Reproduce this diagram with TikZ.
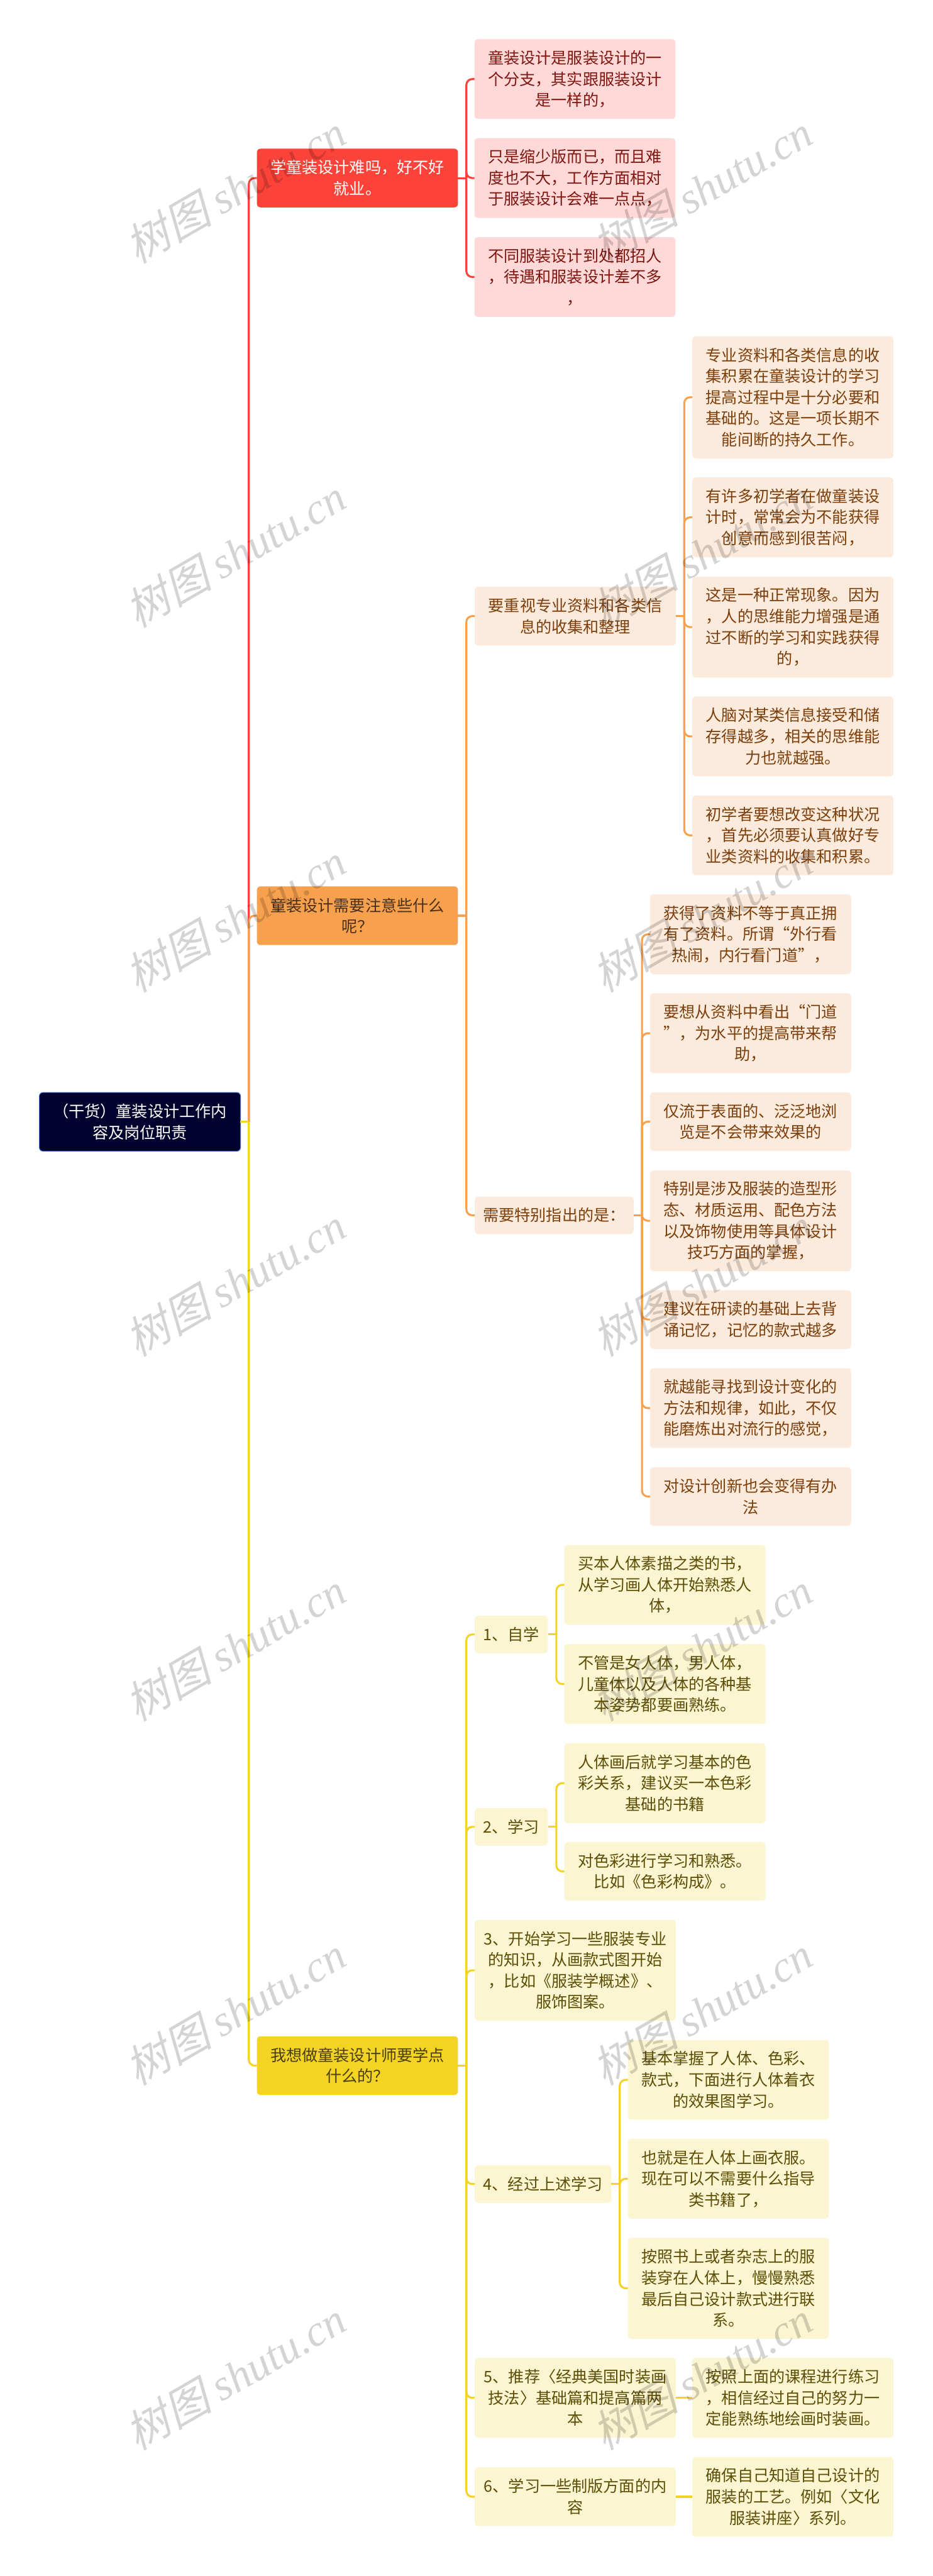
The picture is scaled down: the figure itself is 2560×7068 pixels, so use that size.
\documentclass[tikz,border=0pt]{standalone}
\usepackage{fontspec}
\setmainfont{Noto Sans CJK SC}
\newfontfamily\markcjk[FakeSlant=0.25]{Noto Sans CJK SC}
\newfontfamily\marklatin{Liberation Serif}
\usetikzlibrary{calc}
\definecolor{mind root}{HTML}{02022E}
\definecolor{mind rim}{HTML}{3D6ABF}
\definecolor{mind red}{HTML}{FB4339}
\definecolor{mind red leaf}{HTML}{FFD9D8}
\definecolor{mind red text}{HTML}{7F1610}
\definecolor{mind orange}{HTML}{F7A14E}
\definecolor{mind orange leaf}{HTML}{FCEBDC}
\definecolor{mind orange text}{HTML}{7C3F0B}
\definecolor{mind orange dark}{HTML}{4A3018}
\definecolor{mind yellow}{HTML}{F3D324}
\definecolor{mind yellow leaf}{HTML}{FCF5D2}
\definecolor{mind yellow text}{HTML}{5C4E05}
\definecolor{mind yellow dark}{HTML}{4A3F08}
\tikzset{
  topic/.style = {rounded corners = 5 pt, inner sep = 0 pt, outer sep = 0 pt, align = center,
    font = \fontsize{21.7pt}{29pt}\selectfont, minimum width = 276 pt},
  rows/.style = {minimum height = #1*29 pt + 22.5 pt},
  root box/.style = {topic, fill = mind root, draw = mind rim, line width = 1 pt, text = white},
  red main/.style = {topic, fill = mind red, text = white},
  red leaf/.style = {topic, fill = mind red leaf, text = mind red text},
  orange main/.style = {topic, fill = mind orange, text = mind orange dark},
  orange leaf/.style = {topic, fill = mind orange leaf, text = mind orange text},
  yellow main/.style = {topic, fill = mind yellow, text = mind yellow dark},
  yellow leaf/.style = {topic, fill = mind yellow leaf, text = mind yellow text},
  link/.style = {line width = 2.7 pt, draw = #1},
  watermark/.style = {inner sep = 0 pt, rotate = 30, text = black, text opacity = 0.17,
    font = \fontsize{60pt}{60pt}\selectfont}
}
\newcommand{\connect}[3]{%
  \draw[link = #1] (#2.east) -- ++(23, 0);
  \draw[link = #1, rounded corners = 8 pt] ($(#2.east) + (23, 0)$) |- (#3.west);
}
\begin{document}
\begin{tikzpicture}[x = 0.5 pt, y = -0.5 pt]
  \useasboundingbox (0, 0) rectangle (2560, 7068);

  \node[root box, rows = 2] (root) at (384, 3078) {（干货）童装设计工作内\\容及岗位职责};

  \node[red main, rows = 2] (study) at (981, 488.5) {学童装设计难吗，好不好\\就业。};
  \node[red leaf, rows = 3] (study a) at (1578, 217) {童装设计是服装设计的一\\个分支，其实跟服装设计\\是一样的，};
  \node[red leaf, rows = 3] (study b) at (1578, 488.5) {只是缩少版而已，而且难\\度也不大，工作方面相对\\于服装设计会难一点点，};
  \node[red leaf, rows = 3] (study c) at (1578, 760) {不同服装设计到处都招人\\，待遇和服装设计差不多\\，};

  \node[orange main, rows = 2] (care) at (981, 2512.5) {童装设计需要注意些什么\\呢？};
  \node[orange leaf, rows = 2] (data) at (1579, 1690.5) {要重视专业资料和各类信\\息的收集和整理};
  \node[orange leaf, rows = 5] (data a) at (2176, 1090) {专业资料和各类信息的收\\集积累在童装设计的学习\\提高过程中是十分必要和\\基础的。这是一项长期不\\能间断的持久工作。};
  \node[orange leaf, rows = 3] (data b) at (2176, 1419.5) {有许多初学者在做童装设\\计时，常常会为不能获得\\创意而感到很苦闷，};
  \node[orange leaf, rows = 4] (data c) at (2176, 1720.5) {这是一种正常现象。因为\\，人的思维能力增强是通\\过不断的学习和实践获得\\的，};
  \node[orange leaf, rows = 3] (data d) at (2176, 2020.5) {人脑对某类信息接受和储\\存得越多，相关的思维能\\力也就越强。};
  \node[orange leaf, rows = 3] (data e) at (2176, 2292) {初学者要想改变这种状况\\，首先必须要认真做好专\\业类资料的收集和积累。};

  \node[orange leaf, rows = 1, minimum width = 218 pt] (note) at (1521, 3334.5) {需要特别指出的是：};
  \node[orange leaf, rows = 3] (note a) at (2060, 2563.5) {获得了资料不等于真正拥\\有了资料。所谓“外行看\\热闹，内行看门道”，};
  \node[orange leaf, rows = 3] (note b) at (2060, 2835) {要想从资料中看出“门道\\”，为水平的提高带来帮\\助，};
  \node[orange leaf, rows = 2] (note c) at (2060, 3077.5) {仅流于表面的、泛泛地浏\\览是不会带来效果的};
  \node[orange leaf, rows = 4] (note d) at (2060, 3349.5) {特别是涉及服装的造型形\\态、材质运用、配色方法\\以及饰物使用等具体设计\\技巧方面的掌握，};
  \node[orange leaf, rows = 2] (note e) at (2060, 3620.5) {建议在研读的基础上去背\\诵记忆，记忆的款式越多};
  \node[orange leaf, rows = 3] (note f) at (2060, 3863.5) {就越能寻找到设计变化的\\方法和规律，如此，不仅\\能磨炼出对流行的感觉，};
  \node[orange leaf, rows = 2] (note g) at (2060, 4106) {对设计创新也会变得有办\\法};

  \node[yellow main, rows = 2] (learn) at (981, 5667.5) {我想做童装设计师要学点\\什么的？};
  \node[yellow leaf, rows = 1, minimum width = 100.5 pt] (one) at (1403.5, 4484.5) {1、自学};
  \node[yellow leaf, rows = 3] (one a) at (1825, 4348.5) {买本人体素描之类的书，\\从学习画人体开始熟悉人\\体，};
  \node[yellow leaf, rows = 3] (one b) at (1825, 4620.5) {不管是女人体，男人体，\\儿童体以及人体的各种基\\本姿势都要画熟练。};
  \node[yellow leaf, rows = 1, minimum width = 100.5 pt] (two) at (1403.5, 5012.5) {2、学习};
  \node[yellow leaf, rows = 3] (two a) at (1825, 4892.5) {人体画后就学习基本的色\\彩关系，建议买一本色彩\\基础的书籍};
  \node[yellow leaf, rows = 2] (two b) at (1825, 5134.5) {对色彩进行学习和熟悉。\\比如《色彩构成》。};
  \node[yellow leaf, rows = 4] (three) at (1579, 5406) {3、开始学习一些服装专业\\的知识，从画款式图开始\\，比如《服装学概述》、\\服饰图案。};
  \node[yellow leaf, rows = 1, minimum width = 187.5 pt] (four) at (1490.5, 5992.5) {4、经过上述学习};
  \node[yellow leaf, rows = 3] (four a) at (1999, 5706.5) {基本掌握了人体、色彩、\\款式，下面进行人体着衣\\的效果图学习。};
  \node[yellow leaf, rows = 3] (four b) at (1999, 5978) {也就是在人体上画衣服。\\现在可以不需要什么指导\\类书籍了，};
  \node[yellow leaf, rows = 4] (four c) at (1999, 6278.5) {按照书上或者杂志上的服\\装穿在人体上，慢慢熟悉\\最后自己设计款式进行联\\系。};
  \node[yellow leaf, rows = 3] (five) at (1579, 6579) {5、推荐〈经典美国时装画\\技法〉基础篇和提高篇两\\本};
  \node[yellow leaf, rows = 3] (five a) at (2176, 6579) {按照上面的课程进行练习\\，相信经过自己的努力一\\定能熟练地绘画时装画。};
  \node[yellow leaf, rows = 2] (six) at (1579, 6850.5) {6、学习一些制版方面的内\\容};
  \node[yellow leaf, rows = 3] (six a) at (2176, 6850.5) {确保自己知道自己设计的\\服装的工艺。例如〈文化\\服装讲座〉系列。};

  \connect{mind red}{root}{study}
  \connect{mind red}{study}{study a}
  \connect{mind red}{study}{study b}
  \connect{mind red}{study}{study c}

  \connect{mind orange}{root}{care}
  \connect{mind orange}{care}{data}
  \connect{mind orange}{care}{note}
  \connect{mind orange}{data}{data a}
  \connect{mind orange}{data}{data b}
  \connect{mind orange}{data}{data c}
  \connect{mind orange}{data}{data d}
  \connect{mind orange}{data}{data e}
  \connect{mind orange}{note}{note a}
  \connect{mind orange}{note}{note b}
  \connect{mind orange}{note}{note c}
  \connect{mind orange}{note}{note d}
  \connect{mind orange}{note}{note e}
  \connect{mind orange}{note}{note f}
  \connect{mind orange}{note}{note g}

  \connect{mind yellow}{root}{learn}
  \connect{mind yellow}{learn}{one}
  \connect{mind yellow}{learn}{two}
  \connect{mind yellow}{learn}{three}
  \connect{mind yellow}{learn}{four}
  \connect{mind yellow}{learn}{five}
  \connect{mind yellow}{learn}{six}
  \connect{mind yellow}{one}{one a}
  \connect{mind yellow}{one}{one b}
  \connect{mind yellow}{two}{two a}
  \connect{mind yellow}{two}{two b}
  \connect{mind yellow}{four}{four a}
  \connect{mind yellow}{four}{four b}
  \connect{mind yellow}{four}{four c}
  \draw[link = mind yellow] (five.east) -- (five a.west);
  \draw[link = mind yellow] (six.east) -- (six a.west);

  \foreach \row in {0, ..., 6} {
    \foreach \col in {0, 1} {
      \node[watermark, name = mark\row\col] at (645 + 1281*\col, 518 + 1000*\row) {%
        \markcjk 树图 \marklatin\itshape shutu.cn};
    }
  }
\end{tikzpicture}
\end{document}
